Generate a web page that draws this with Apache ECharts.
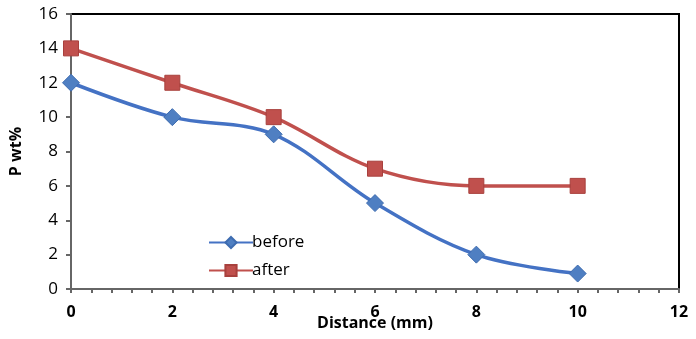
<!DOCTYPE html>
<html><head><meta charset="utf-8">
<script src="https://cdn.jsdelivr.net/npm/echarts@6/dist/echarts.min.js"></script>
<style>html,body{margin:0;padding:0;background:#fff}#c{width:696px;height:339px}</style>
</head><body><div id="c"></div>
<script>
const distance = [0, 2, 4, 6, 8, 10];
const before = [12, 10, 9, 5, 2, 0.9];
const after = [14, 12, 10, 7, 6, 6];
const xTicks = [0, 2, 4, 6, 8, 10, 12];
const yTicks = [0, 2, 4, 6, 8, 10, 12, 14, 16];

const chart = echarts.init(document.getElementById('c'));
const font = 'Open Sans, DejaVu Sans, sans-serif';
chart.setOption({
  animation: false,
  grid: { left: 71, right: 17, top: 14, bottom: 50, containLabel: false, outerBoundsMode: 'none',
    show: true, borderColor: '#000', borderWidth: 2, backgroundColor: '#fff' },
  legend: {
    orient: 'vertical', left: 203, top: 229, itemGap: 11, itemWidth: 44, itemHeight: 14,
    textStyle: { fontFamily: font, fontSize: 17, color: '#000', padding: [0, 0, 0, -6] },
    data: ['before', 'after']
  },
  xAxis: {
    type: 'value', min: 0, max: 12, interval: 2,
    name: 'Distance (mm)', nameLocation: 'middle', nameGap: 26, nameMoveOverlap: false,
    nameTextStyle: { fontFamily: font, fontSize: 16, fontWeight: 'bold', color: '#000' },
    axisLine: { lineStyle: { color: '#666', width: 2 } },
    axisTick: { show: true, length: 4, lineStyle: { color: '#666', width: 2 } },
    minorTick: { show: true, splitNumber: 5, length: 4, lineStyle: { color: '#666', width: 2 } },
    splitLine: { show: false },
    axisLabel: { fontFamily: font, fontSize: 16, fontWeight: 'bold', color: '#000', margin: 15,
      formatter: v => xTicks.includes(v) ? String(v) : '' }
  },
  yAxis: {
    type: 'value', min: 0, max: 16, interval: 2,
    name: 'P wt%', nameLocation: 'middle', nameGap: 47, nameRotate: 90, nameMoveOverlap: false,
    nameTextStyle: { fontFamily: font, fontSize: 16, fontWeight: 'bold', color: '#000' },
    axisLine: { show: true, lineStyle: { color: '#666', width: 2 } },
    axisTick: { show: true, length: 5, lineStyle: { color: '#666', width: 2 } },
    splitLine: { show: false },
    axisLabel: { fontFamily: font, fontSize: 17, color: '#000', margin: 13,
      formatter: v => yTicks.includes(v) ? String(v) : '' }
  },
  series: [
    { name: 'before', type: 'line', smooth: 0.35, data: distance.map((d, i) => [d, before[i]]),
      symbol: 'diamond', symbolSize: 17,
      lineStyle: { color: '#4472C4', width: 3.5 },
      itemStyle: { color: '#4F7FC2', borderColor: '#3E6CB0', borderWidth: 1 } },
    { name: 'after', type: 'line', smooth: 0.35, data: distance.map((d, i) => [d, after[i]]),
      symbol: 'rect', symbolSize: 15,
      lineStyle: { color: '#C0504D', width: 3.5 },
      itemStyle: { color: '#C0504D', borderColor: '#A8403D', borderWidth: 1 } }
  ]
});
</script></body></html>
